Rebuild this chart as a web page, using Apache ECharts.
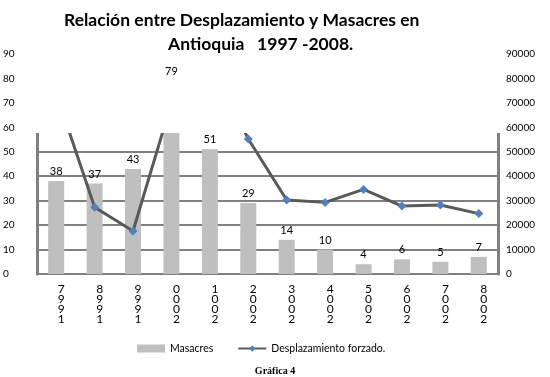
<!DOCTYPE html>
<html>
<head>
<meta charset="utf-8">
<script src="https://cdn.jsdelivr.net/npm/echarts@6/dist/echarts.min.js"></script>
<style>html,body{margin:0;padding:0;background:#fff}#c{width:550px;height:377px}</style>
</head>
<body>
<div id="c"></div>
<script>
var years = ['1997','1998','1999','2000','2001','2002','2003','2004','2005','2006','2007','2008'];
var masacres = [38, 37, 43, 79, 51, 29, 14, 10, 4, 6, 5, 7];
var desplazamiento = [74000, 27300, 17600, 70000, 88000, 55200, 30300, 29300, 34600, 27800, 28200, 24700];
var leftTicks = [0, 10, 20, 30, 40, 50, 60, 70, 80, 90];
var rightTicks = [0, 10000, 20000, 30000, 40000, 50000, 60000, 70000, 80000, 90000];

var chart = echarts.init(document.getElementById('c'));
var F = 'Lato, "Open Sans", sans-serif';
chart.setOption({
  animation: false,
  backgroundColor: '#fff',
  title: [
    {text: 'Relación entre Desplazamiento y Masacres en', left: 59, top: 6, z: 300,
     textStyle: {fontFamily: F, fontWeight: 'bold', fontSize: 17.5, color: '#000'}},
    {text: 'Antioquia   1997 -2008.', left: 163, top: 30, z: 300,
     textStyle: {fontFamily: F, fontWeight: 'bold', fontSize: 17.5, color: '#000'}},
    {text: 'Gráfica 4', left: 'center', top: 361,
     textStyle: {fontFamily: '"Liberation Serif", serif', fontWeight: 'bold', fontSize: 10, color: '#000'}}
  ],
  grid: {left: 32, right: 52, top: 54, bottom: 103},
  legend: {
    left: 132, top: 338, itemWidth: 28, itemHeight: 8, itemGap: 24,
    textStyle: {fontFamily: F, fontSize: 10.5, color: '#000'},
    data: [{name: 'Masacres', icon: 'rect'}, {name: 'Desplazamiento forzado.'}]
  },
  xAxis: {
    type: 'category', data: years,
    axisLine: {lineStyle: {color: '#808080', width: 2}},
    axisTick: {show: false},
    axisLabel: {
      fontFamily: F, fontSize: 12, color: '#000', lineHeight: 10, margin: 10,
      padding: [0, 0, 0, 10],
      formatter: function (v) { return v.split('').reverse().join('\n'); }
    }
  },
  yAxis: [
    {type: 'value', min: 0, max: 90, interval: 10,
     axisLine: {show: true, lineStyle: {color: '#808080', width: 3}},
     axisTick: {show: false},
     splitLine: {lineStyle: {color: '#808080', width: 2}},
     axisLabel: {fontFamily: F, fontSize: 10, color: '#000', margin: 12, align: 'left', padding: [0, 0, 0, -22],
       formatter: function (v) { return String(v); }}},
    {type: 'value', min: 0, max: 90000, interval: 10000,
     axisLine: {show: true, lineStyle: {color: '#808080', width: 3}},
     axisTick: {show: false},
     splitLine: {show: false},
     axisLabel: {fontFamily: F, fontSize: 10, color: '#000', margin: 8,
       formatter: function (v) { return String(v); }}}
  ],
  graphic: [
    {type: 'rect', z: 100, shape: {x: 29, y: 50, width: 473, height: 83},
     style: {fill: '#fff'}, silent: true}
  ],
  series: [
    {name: 'Masacres', type: 'bar', data: masacres, barWidth: 16, z: 2,
     itemStyle: {color: '#bfbfbf'}},
    {name: 'lbl', type: 'bar', data: masacres, barWidth: 16, barGap: '-100%', z: 200,
     itemStyle: {color: 'rgba(0,0,0,0)'},
     label: {show: true, position: 'top', distance: 4, fontFamily: F, fontSize: 11, color: '#000'}},
    {name: 'Desplazamiento forzado.', type: 'line', yAxisIndex: 1, data: desplazamiento, z: 3,
     symbol: 'diamond', symbolSize: 9,
     lineStyle: {color: '#595959', width: 3},
     itemStyle: {color: '#4f81bd'}}
  ]
});
</script>
</body>
</html>
